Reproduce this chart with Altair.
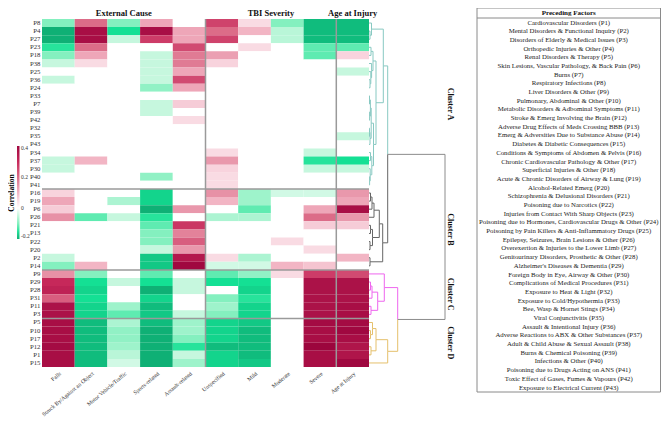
import altair as alt
import pandas as pd

FONT = "Liberation Serif"

rows = ["P8", "P4", "P27", "P23", "P18", "P38", "P25", "P36", "P24", "P33", "P7", "P39", "P42", "P32",
        "P35", "P43", "P34", "P37", "P30", "P40", "P41",
        "P16", "P19", "P6", "P26", "P21", "P13", "P22", "P20", "P2", "P14",
        "P9", "P29", "P28", "P31", "P11", "P3",
        "P5", "P10", "P17", "P12", "P1", "P15"]
columns = ["Falls", "Struck By/Against an Object", "Motor Vehicle/Traffic", "Sports-related",
           "Assault-related", "Unspecified", "Mild", "Moderate", "Severe", "Age at Injury"]

falls = [-0.1, -0.2, -0.2, -0.15, -0.1, -0.05, 0, -0.05, 0, 0, 0, 0, 0, 0, 0, 0, 0, -0.05, -0.05, 0, 0,
         0.06, 0.12, 0.07, 0.15, 0, 0, 0, 0, -0.05, -0.1,
         0.15, 0.3, 0.32, 0.22, 0.37, 0.37,
         0.38, 0.38, 0.38, 0.39, 0.38, 0.38]
struck = [0.2, 0.38, 0.38, 0.2, 0.12, 0.05, 0, 0, 0, 0, 0, 0, 0, 0, 0, 0, 0, 0.1, 0, 0, 0,
          0, 0, 0, -0.12, 0, 0, 0, 0, 0, 0.1,
          -0.1, -0.16, -0.17, -0.16, -0.17, -0.17,
          -0.19, -0.19, -0.19, -0.19, -0.19, -0.19]
motor = [-0.1, -0.16, -0.05, 0, 0, 0, 0, 0, 0, 0, 0, 0, 0, 0, 0, 0, 0, 0, 0, 0, 0,
         0, -0.07, 0, -0.05, 0, 0, 0, 0, 0, 0,
         0, -0.05, 0, 0, -0.08, -0.12,
         -0.07, -0.09, -0.09, -0.08, -0.06, -0.04]
sports = [0.12, 0.38, 0.27, 0, -0.05, -0.05, -0.05, -0.05, -0.09, 0, -0.05, -0.05, 0, 0, 0, 0, 0, 0, 0, -0.09, 0,
          -0.17, -0.17, -0.2, -0.15, -0.12, -0.1, -0.1, -0.05, -0.18, -0.18,
          -0.12, -0.16, -0.2, -0.17, -0.19, -0.18,
          -0.19, -0.2, -0.2, -0.2, -0.2, -0.2]
assault = [0, 0.12, 0.12, 0.25, 0.18, 0.18, 0.12, 0.25, 0.12, 0, 0.07, 0, 0.05, 0, 0, 0, 0, 0, 0, 0, 0,
           0, 0, 0.14, 0, 0.28, 0.17, 0.22, 0.14, 0.35, 0.4,
           0, -0.05, -0.05, 0, 0, -0.05,
           -0.08, -0.08, -0.1, -0.15, -0.05, -0.08]
unspecified = [0.26, 0.2, 0.26, 0, 0.13, 0.06, 0, 0, 0, 0, 0, 0, 0, 0, 0, 0, 0.05, 0.14, 0.06, 0.05, 0.05,
               0.15, 0.1, 0, -0.07, 0, 0, 0, 0, 0.05, -0.04,
               -0.12, -0.16, 0, -0.1, -0.08, -0.1,
               -0.17, -0.17, -0.17, -0.19, -0.17, -0.17]
mild = [0.05, 0.1, 0, 0.05, 0, 0, 0, 0, 0, 0, 0, 0, 0, 0, 0, 0, 0, 0, 0, 0, 0,
        -0.08, -0.08, -0.12, -0.07, 0, 0, 0, 0, -0.07, -0.04,
        -0.09, -0.16, -0.17, -0.15, -0.17, -0.17,
        -0.18, -0.19, -0.19, -0.19, -0.19, -0.18]
moderate = [-0.1, -0.06, -0.06, 0, 0, 0, 0, 0, 0, 0, 0, 0, 0, 0, 0, 0, 0, 0, 0, 0, 0,
            -0.04, 0, 0, 0, 0, 0, 0.05, 0, 0, 0.1,
            0.05, 0, 0, 0, 0, 0,
            0, 0, 0, 0, 0, 0]
severe = [-0.19, -0.19, -0.19, -0.12, -0.12, 0, 0, 0, 0, 0, 0, 0, 0, 0, 0, 0, -0.05, -0.15, -0.05, 0, 0,
          -0.04, 0, 0.12, 0.2, 0.07, 0, 0, 0.05, 0, 0.08,
          0.27, 0.37, 0.37, 0.37, 0.37, 0.37,
          0.39, 0.38, 0.38, 0.41, 0.38, 0.38]
age = [-0.19, -0.19, -0.19, -0.12, 0.06, 0, -0.05, 0, 0, 0, 0, 0, 0, 0, -0.05, 0, 0, -0.16, -0.05, 0, 0,
       0.14, 0.12, 0.38, 0.14, 0.07, 0, 0, 0, 0.1, 0,
       0.25, 0.37, 0.37, 0.37, 0.38, 0.38,
       0.39, 0.4, 0.38, 0.36, 0.36, 0.4]
matrix = [falls, struck, motor, sports, assault, unspecified, mild, moderate, severe, age]

group_titles = ["External Cause", "TBI Severity", "Age at Injury"]
cluster_names = ["Cluster A", "Cluster B", "Cluster C", "Cluster D"]
cluster_sizes = [21, 10, 6, 6]

factor_names = [
    "Cardiovascular Disorders (P1)", "Mental Disorders & Functional Inquiry (P2)",
    "Disorders of Elderly & Medical Issues (P3)", "Orthopedic Injuries & Other (P4)",
    "Renal Disorders & Therapy (P5)", "Skin Lesions,  Vascular Pathology, & Back Pain (P6)",
    "Burns (P7)", "Respiratory Infections (P8)", "Liver Disorders & Other (P9)",
    "Pulmonary, Abdominal & Other (P10)", "Metabolic Disorders & Adbominal Symptoms (P11)",
    "Stroke & Emerg Involving the Brain (P12)", "Adverse Drug Effects of Meds Crossing BBB (P13)",
    "Emerg & Adversities Due to Substance Abuse (P14)", "Diabetes & Diabetic Consequences (P15)",
    "Conditions & Symptoms of Abdomen & Pelvis (P16)", "Chronic Cardiovascular Pathology & Other (P17)",
    "Superficial Injuries & Other (P18)", "Acute & Chronic Disorders of Airway & Lung (P19)",
    "Alcohol-Related Emerg (P20)", "Schizophrenia & Delusional Disorders (P21)",
    "Poisoning due to Narcotics (P22)", "Injuries from Contact With Sharp Objects (P23)",
    "Poisoning due to Hormones, Cardiovascular Drugs & Other (P24)",
    "Poisoning by Pain Killers & Anti-Inflammatory Drugs (P25)",
    "Epilepsy, Seizures, Brain Lesions & Other (P26)", "Overexertion & Injuries to the Lower Limb (P27)",
    "Genitourinary Disorders, Prosthetic & Other (P28)", "Alzheimer's Diseases & Dementia (P29)",
    "Foreign Body in Eye, Airway & Other (P30)", "Complications of Medical Procedures (P31)",
    "Exposure to Heat & Light (P32)", "Exposure to Cold/Hypothermia (P33)",
    "Bee, Wasp & Hornet Stings (P34)", "Viral Conjunctivitis (P35)", "Assault & Intentional Injury (P36)",
    "Adverse Reactions to ABX & Other Substances (P37)", "Adult & Child Abuse & Sexual Assault (P38)",
    "Burns & Chemical Poisoning (P39)", "Infections & Other (P40)",
    "Poisoning due to Drugs Acting on ANS (P41)", "Toxic Effect of Gases, Fumes & Vapours (P42)",
    "Exposure to Electrical Current (P43)"]

# dendrogram: [left, right, merge height]
tree_A = [["P8", ["P4", "P27", 1.0], 2.5],
          [[["P23", "P18", 2.0], ["P38", ["P25", ["P36", "P24", 1.0], 1.8], 2.6], 4.0],
           [[[["P33", "P7", 0.5], ["P39", "P42", 0.6], 1.4], [["P32", "P35", 0.5], "P43", 1.0], 2.2],
            [["P34", "P37", 1.5], ["P30", ["P40", "P41", 0.6], 1.2], 2.8], 4.5],
           7.0],
          14.3]
tree_B = [[[[["P16", "P19", 1.5], "P6", 3.0], "P26", 5.0],
           [["P21", "P13", 1.5], ["P22", "P20", 1.0], 3.5], 10.3],
          ["P2", "P14", 1.0], 13.7]
tree_C = ["P9", [[["P29", "P28", 1.5], "P31", 3.0], ["P11", "P3", 2.0], 8.7], 15.3]
tree_D = [[["P5", ["P10", "P17", 1.5], 3.5], ["P12", "P1", 2.0], 7.0], "P15", 18.7]
height_AB = 18.7
height_CD = 28.7
height_root = 76.0

cluster_colors = ["#88c9c2", "#666666", "#ee66ee", "#e5c06c"]
link_gray = "#8c8c8c"

# ---------------- build tables ----------------
records = []
for c, vals in zip(columns, matrix):
    for r, v in zip(rows, vals):
        records.append({"row": r, "col": c, "value": v})
heat_df = pd.DataFrame(records)

leaf_y = {r: i + 0.5 for i, r in enumerate(rows)}
segs = []


def walk(node, color):
    if isinstance(node, str):
        return leaf_y[node], 0.0
    left, right, h = node
    kids = [walk(left, color), walk(right, color)]
    y = (kids[0][0] + kids[1][0]) / 2
    for cy, ch in kids:
        segs.append(dict(x1=ch, x2=h, y1=cy, y2=cy, color=color))
        segs.append(dict(x1=h, x2=h, y1=cy, y2=y, color=color))
    return y, h


def join(a, b, h, color):
    y = (a[0] + b[0]) / 2
    for cy, ch, cc in (a, b):
        segs.append(dict(x1=ch, x2=h, y1=cy, y2=cy, color=cc))
        segs.append(dict(x1=h, x2=h, y1=cy, y2=y, color=cc))
    return y, h, color


subs = []
for t, col in zip([tree_A, tree_B, tree_C, tree_D], cluster_colors):
    yy, hh = walk(t, col)
    subs.append((yy, hh, col))
ab = join(subs[0], subs[1], height_AB, link_gray)
cd = join(subs[2], subs[3], height_CD, link_gray)
join(ab, cd, height_root, link_gray)
seg_df = pd.DataFrame(segs)

starts = [sum(cluster_sizes[:i]) for i in range(len(cluster_sizes))]
cl_df = pd.DataFrame({"name": cluster_names,
                      "mid": [s + n / 2 for s, n in zip(starts, cluster_sizes)]})
sep_rows = [rows[s] for s in starts[1:]]
fac_df = pd.DataFrame({"label": factor_names, "idx": list(range(len(factor_names)))})
one = pd.DataFrame({"k": [0]})

# ---------------- chart ----------------
PADL, PADT = 34, 11
HW, HH = 327, 348
TOTAL_W = 619
xh = alt.Scale(domain=columns, range=[0, HW], paddingInner=0, paddingOuter=0)
yh = alt.Scale(domain=rows, paddingInner=0, paddingOuter=0)
x_axis = alt.Axis(title=None, labelAngle=-40, ticks=False, domain=False, labelFont=FONT,
                  labelFontSize=5.7, labelColor="#333333", labelPadding=3, labelLimit=250)
y_axis = alt.Axis(title=None, ticks=False, domain=False, labelFont=FONT, labelFontSize=6.8,
                  labelColor="#333333", labelPadding=2)

color_domain = [-0.2, -0.16, -0.1, -0.05, 0, 0.05, 0.1, 0.2, 0.3, 0.4]
color_range = ["#0fb075", "#14e094", "#84f0bf", "#c6f7de", "#ffffff", "#f9dbe3", "#f2b5c4",
               "#dc6c88", "#c6285a", "#a00840"]

rect = alt.Chart(heat_df).mark_rect().encode(
    x=alt.X("col:N", scale=xh, axis=x_axis),
    y=alt.Y("row:N", scale=yh, axis=y_axis),
    color=alt.Color("value:Q",
                    scale=alt.Scale(domain=color_domain, range=color_range, interpolate="rgb"),
                    legend=alt.Legend(orient="none", legendX=-PADL, legendY=127, direction="vertical",
                                      gradientLength=93, gradientThickness=2.5, title="Correlation",
                                      titleOrient="left", titleFont=FONT, titleFontSize=7.5,
                                      titleFontWeight="bold", titlePadding=1, labelFont=FONT,
                                      labelFontSize=5.5, labelColor="#333333",
                                      values=[-0.2, 0, 0.2, 0.4], labelExpr="datum.value",
                                      gradientStrokeWidth=0, labelOffset=1.5)),
)

hlines = alt.Chart(pd.DataFrame({"row": sep_rows})).mark_rule(color="#9a9a9a", strokeWidth=1.5).encode(
    y=alt.Y("row:N", scale=yh, axis=y_axis, bandPosition=0),
    x=alt.value(0), x2=alt.value(HW))
vlines = alt.Chart(pd.DataFrame({"col": ["Unspecified", "Age at Injury"]})).mark_rule(
    color="#9a9a9a", strokeWidth=1.5).encode(
    x=alt.X("col:N", scale=xh, axis=x_axis, bandPosition=0),
    y=alt.value(0), y2=alt.value(HH))

title_style = dict(font=FONT, fontSize=8.5, fontWeight="bold", baseline="alphabetic", color="#111111")
titles_c = alt.Chart(pd.DataFrame({"t": [group_titles[0], group_titles[2]],
                                   "col": ["Motor Vehicle/Traffic", "Age at Injury"]})).mark_text(
    **title_style).encode(x=alt.X("col:N", scale=xh, axis=x_axis), y=alt.value(-3), text="t:N")
titles_b = alt.Chart(pd.DataFrame({"t": [group_titles[1]], "col": ["Moderate"]})).mark_text(
    **title_style).encode(x=alt.X("col:N", scale=xh, axis=x_axis, bandPosition=0), y=alt.value(-3),
                          text="t:N")

heat = alt.layer(rect, hlines, vlines, titles_c, titles_b)

dx = alt.Scale(domain=[0, height_root], range=[HW, HW + 76])
dy = alt.Scale(domain=[0, len(rows)], range=[0, HH])
dendro = alt.Chart(seg_df).mark_rule(strokeWidth=1).encode(
    x=alt.X("x1:Q", scale=dx, axis=None), x2="x2:Q",
    y=alt.Y("y1:Q", scale=dy, axis=None), y2="y2:Q",
    stroke=alt.Stroke("color:N", scale=None))
clabels = alt.Chart(cl_df).mark_text(angle=90, font=FONT, fontSize=8, fontWeight="bold",
                                     color="#111111").encode(
    x=alt.value(HW + 81), y=alt.Y("mid:Q", scale=dy, axis=None), text="name:N")
dendro_layer = alt.layer(dendro, clabels)

BX0, BX1, BY0, BY1 = 435, TOTAL_W - 0.5, -11, 373
box = alt.Chart(one).mark_rect(fill="white", stroke="#8a8a8a", strokeWidth=1).encode(
    x=alt.value(BX0), x2=alt.value(BX1), y=alt.value(BY0), y2=alt.value(BY1))
hline = alt.Chart(one).mark_rule(color="#8a8a8a", strokeWidth=1).encode(
    x=alt.value(BX0), x2=alt.value(BX1), y=alt.value(-1))
header = alt.Chart(one).mark_text(font=FONT, fontSize=7, fontWeight="bold", color="#111111").encode(
    x=alt.value((BX0 + BX1) / 2), y=alt.value(-6), text=alt.value("Preceding Factors"))
entries = alt.Chart(fac_df).mark_text(font=FONT, fontSize=6.8, color="#222222").encode(
    x=alt.value((BX0 + BX1) / 2),
    y=alt.Y("idx:Q", scale=alt.Scale(domain=[0, len(factor_names) - 1], range=[3.5, 368.5]), axis=None),
    text="label:N")

chart = alt.layer(heat, dendro_layer, box, hline, header, entries).resolve_scale(
    x="independent", y="independent"
).properties(
    width=TOTAL_W, height=HH,
    padding={"left": PADL, "top": PADT, "right": 0, "bottom": 409 - PADT - HH},
    autosize=alt.AutoSizeParams(type="none"),
).configure_view(stroke=None)

chart.save("out.html", embed_options={"renderer": "svg", "actions": False})
